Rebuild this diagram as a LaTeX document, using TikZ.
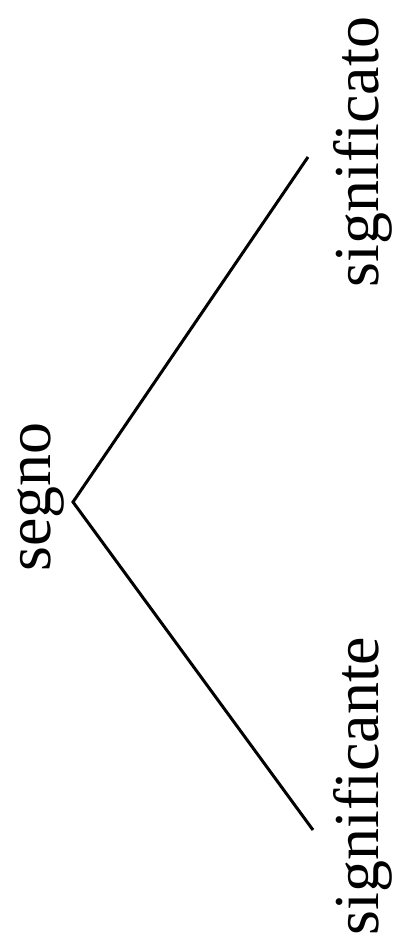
\documentclass[tikz,border=0pt]{standalone}
\usepackage{fontspec}
\setmainfont{Liberation Serif}
\begin{document}
\begin{tikzpicture}[x=1pt, y=-1pt,
    word/.style={rotate=90, inner sep=0pt, font=\fontsize{64}{70}\selectfont},
    branch/.style={line width=3pt}]
    \useasboundingbox (0,0) rectangle (398,951);
    % Labels
    \node[word] (segno) at (41,497) {segno};
    \node[word] (significato) at (363,152) {significato};
    \node[word] (significante) at (363,786) {significante};
    % Branches
    \coordinate (apex) at (73,502);
    \coordinate (topend) at (308,157);
    \coordinate (botend) at (313,830);
    \draw[branch] (topend) -- (apex) -- (botend);
\end{tikzpicture}
\end{document}
